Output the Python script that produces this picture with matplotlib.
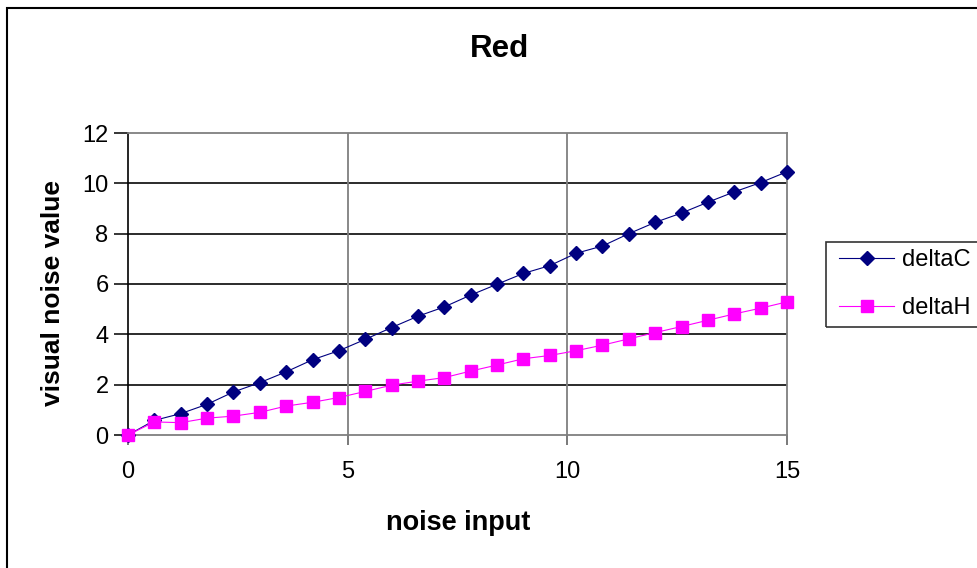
import matplotlib
matplotlib.use('Agg')
import matplotlib.pyplot as plt
from matplotlib.patches import Rectangle

plt.rcParams['font.family'] = ['Liberation Sans', 'DejaVu Sans']

# noise input steps and the measured visual noise
noise_input = [0, 0.6, 1.2, 1.8, 2.4, 3.0, 3.6, 4.2, 4.8, 5.4, 6.0, 6.6, 7.2,
               7.8, 8.4, 9.0, 9.6, 10.2, 10.8, 11.4, 12.0, 12.6, 13.2, 13.8, 14.4, 15.0]
delta_c = [0, 0.58, 0.85, 1.22, 1.71, 2.08, 2.51, 2.99, 3.35, 3.80, 4.27, 4.72, 5.09,
           5.56, 5.99, 6.42, 6.73, 7.22, 7.51, 8.00, 8.45, 8.82, 9.25, 9.66, 10.03, 10.46]
delta_h = [0, 0.52, 0.49, 0.67, 0.75, 0.90, 1.15, 1.30, 1.49, 1.73, 1.98, 2.14, 2.28,
           2.54, 2.78, 3.03, 3.16, 3.35, 3.57, 3.82, 4.07, 4.31, 4.56, 4.81, 5.04, 5.29]
x_ticks = [0, 5, 10, 15]
y_ticks = [0, 2, 4, 6, 8, 10, 12]

W, H = 978, 568
fig = plt.figure(figsize=(W / 100, H / 100), dpi=100)

def fx(px):
    return px / W

def fy(py):
    return 1 - py / H

ax = fig.add_axes([fx(128), fy(435), fx(787) - fx(128), fy(133) - fy(435)])

ax.plot(noise_input, delta_c, color='#000080', lw=0.8, marker='D', ms=7,
        mec='#000080', mfc='#000080', label='deltaC', zorder=3, clip_on=False)
ax.plot(noise_input, delta_h, color='#FF00FF', lw=0.8, marker='s', ms=8,
        mec='#FF00FF', mfc='#FF00FF', label='deltaH', zorder=4, clip_on=False)

ax.set_xlim(0, 15)
ax.set_ylim(0, 12)
ax.set_xticks(x_ticks)
ax.set_yticks(y_ticks)
ax.set_xticklabels([str(v) for v in x_ticks], fontsize=17)
ax.set_yticklabels([str(v) for v in y_ticks], fontsize=17)

# horizontal gridlines dark, vertical ones grey
for v in y_ticks[1:-1]:
    ax.axhline(v, color='#1a1a1a', lw=1.3, zorder=1)
for v in x_ticks[1:-1]:
    ax.axvline(v, color='#7f7f7f', lw=1.3, zorder=1)

for side in ['top', 'right', 'bottom']:
    ax.spines[side].set_color('#7f7f7f')
    ax.spines[side].set_linewidth(1.3)
ax.spines['left'].set_color('black')
ax.spines['left'].set_linewidth(1.2)

ax.tick_params(axis='y', direction='out', length=10, width=1.1, color='black', pad=4)
ax.tick_params(axis='x', direction='out', length=7, width=1.1, color='#555555', pad=12)

fig.text(fx(500), fy(57), 'Red', fontsize=22.5, fontweight='bold',
         ha='center', va='baseline')
fig.text(fx(458), fy(530), 'noise input', fontsize=19.5, fontweight='bold',
         ha='center', va='baseline')
fig.text(fx(53), fy(293), 'visual noise value', fontsize=19, fontweight='bold',
         rotation=90, ha='center', va='center')

# legend box runs off the right edge
fig.patches.append(Rectangle((fx(826), fy(327)), fx(1000) - fx(826), fy(242) - fy(327),
                             transform=fig.transFigure, fill=False,
                             edgecolor='#333333', lw=1.2))
ax.legend(loc='upper left', bbox_to_anchor=(fx(830), fy(240)),
          bbox_transform=fig.transFigure, frameon=False, fontsize=17,
          handlelength=2.3, handletextpad=0.35, labelspacing=1.1,
          borderaxespad=0)

# outer chart border
fig.patches.append(Rectangle((fx(7), fy(600)), fx(1000) - fx(7), fy(8) - fy(600),
                             transform=fig.transFigure, fill=False,
                             edgecolor='black', lw=1.5))

fig.savefig('out.png', dpi=100)
